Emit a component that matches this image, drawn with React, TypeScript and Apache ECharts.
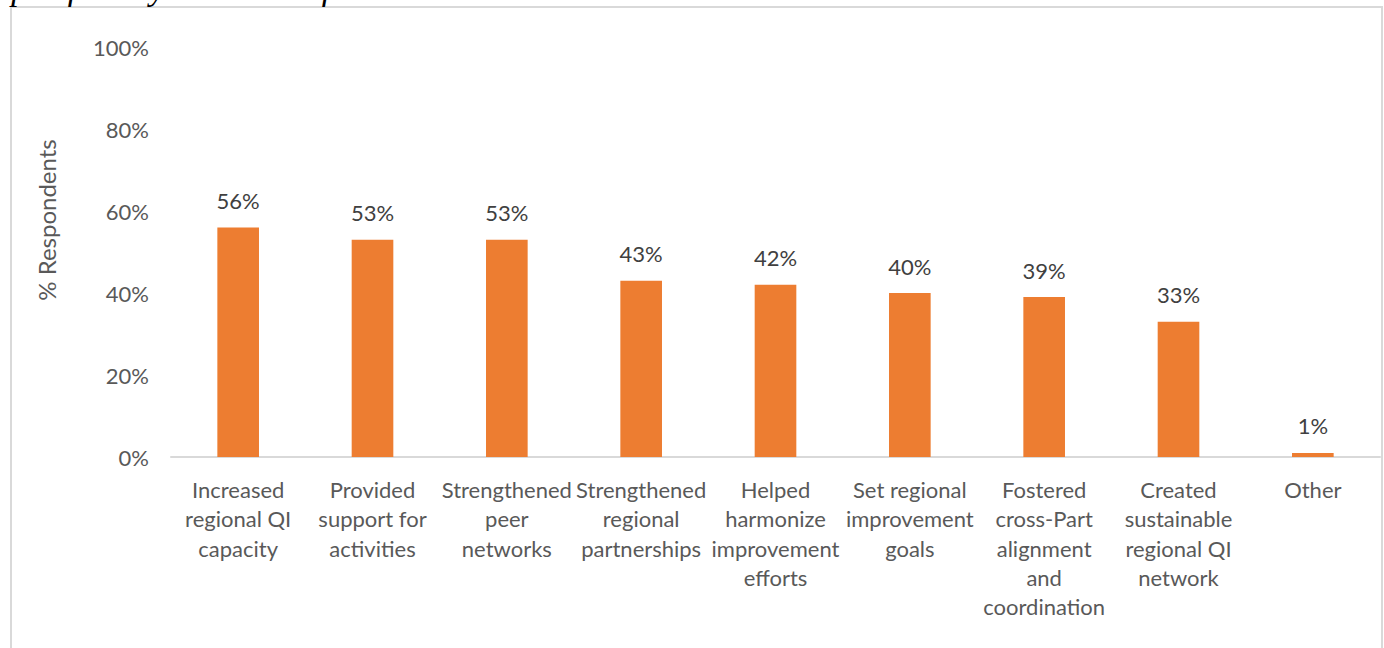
import React, { useEffect, useRef } from "react";
import * as echarts from "echarts";

const categories = [
  "Increased\nregional QI\ncapacity",
  "Provided\nsupport for\nactivities",
  "Strengthened\npeer\nnetworks",
  "Strengthened\nregional\npartnerships",
  "Helped\nharmonize\nimprovement\nefforts",
  "Set regional\nimprovement\ngoals",
  "Fostered\ncross-Part\nalignment\nand\ncoordination",
  "Created\nsustainable\nregional QI\nnetwork",
  "Other",
];
const values = [56, 53, 53, 43, 42, 40, 39, 33, 1];
const yTicks = { min: 0, max: 100, interval: 20 };
const yTitle = "% Respondents";
const caption = "specific ways because of the Collaborative.";

const FONT = "Lato, 'Open Sans', sans-serif";

export default function App() {
  const ref = useRef<HTMLDivElement>(null);
  useEffect(() => {
    if (!ref.current) return;
    const chart = echarts.init(ref.current, undefined, { renderer: "svg" });
    chart.setOption({
      animation: false,
      backgroundColor: "#ffffff",
      textStyle: { fontFamily: FONT },
      grid: { left: 171, right: 4, top: 47, bottom: 191, containLabel: false },
      xAxis: {
        type: "category",
        data: categories,
        axisLine: { show: true, lineStyle: { color: "#d9d9d9", width: 2 } },
        axisTick: { show: false },
        axisLabel: {
          interval: 0,
          color: "#595959",
          fontSize: 22,
          fontFamily: FONT,
          lineHeight: 29.3,
          margin: 18,
          align: "center",
        },
      },
      yAxis: {
        type: "value",
        min: yTicks.min,
        max: yTicks.max,
        interval: yTicks.interval,
        axisLine: { show: false },
        axisTick: { show: false },
        splitLine: { show: false },
        axisLabel: {
          formatter: (v: number) => `${v}%`,
          color: "#595959",
          fontSize: 22,
          fontFamily: FONT,
          margin: 22,
        },
      },
      series: [
        {
          type: "bar",
          data: values,
          barWidth: "31%",
          itemStyle: { color: "#ED7D31" },
          label: {
            show: true,
            position: "top",
            distance: 16,
            formatter: (p: any) => `${p.value}%`,
            color: "#404040",
            fontSize: 22,
            fontFamily: FONT,
          },
        },
      ],
      graphic: [
        {
          type: "rect",
          shape: { x: 11, y: 7, width: 1371, height: 660 },
          style: { fill: "none", stroke: "#d9d9d9", lineWidth: 2 },
          silent: true,
        },
        {
          type: "text",
          x: -2,
          y: -12,
          style: {
            text: caption,
            font: "italic 34px 'Liberation Serif', serif",
            fill: "#000000",
            align: "left",
            verticalAlign: "middle",
          },
          silent: true,
        },
        {
          type: "text",
          x: 46,
          y: 220,
          rotation: Math.PI / 2,
          style: {
            text: yTitle,
            fontSize: 24,
            fontFamily: FONT,
            fill: "#595959",
            align: "center",
            verticalAlign: "middle",
          },
          silent: true,
        },
      ],
    });
    return () => chart.dispose();
  }, []);
  return (
    <div
      ref={ref}
      style={{ position: "fixed", left: 0, top: 0, width: 1384, height: 648 }}
    />
  );
}
